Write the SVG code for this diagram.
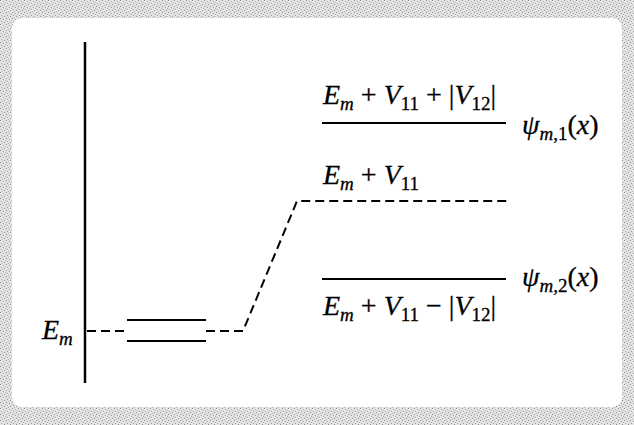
<svg xmlns="http://www.w3.org/2000/svg" width="634" height="425" viewBox="0 0 634 425">
<defs>
<pattern id="noise" width="6" height="6" patternUnits="userSpaceOnUse">
<rect width="6" height="6" fill="#e4e4e4"/>
<rect x="0" y="0" width="1" height="1" fill="#8a8a8a"/>
<rect x="3" y="1" width="1" height="1" fill="#9a9a9a"/>
<rect x="1" y="3" width="1" height="1" fill="#a0a0a0"/>
<rect x="4" y="4" width="1" height="1" fill="#8f8f8f"/>
<rect x="2" y="5" width="1" height="1" fill="#b0b0b0"/>
<rect x="5" y="2" width="1" height="1" fill="#b5b5b5"/>
</pattern>
<style>
.t{font-family:"Liberation Serif","Times New Roman",serif;font-size:28px;fill:#000;stroke:#000;stroke-width:0.3}
.i{font-style:italic}
.s{font-size:19px}
.solid{stroke:#000;stroke-width:2;fill:none}
.dash{stroke:#000;stroke-width:2;fill:none;stroke-dasharray:9 5}
</style>
</defs>
<rect width="634" height="425" fill="url(#noise)"/>
<rect x="12" y="18" width="610" height="389" rx="10" fill="#fff"/>
<g id="axis"><line x1="85" y1="42" x2="85" y2="383" stroke="#000" stroke-width="2.5"/></g>
<g id="connectors">
<line class="dash" x1="87" y1="331" x2="127" y2="331"/>
<polyline class="dash" points="206,331 243,331 297,201 510,201"/>
</g>
<g id="level-Em">
<line class="solid" x1="127" y1="320" x2="206" y2="320"/>
<line class="solid" x1="127" y1="341" x2="206" y2="341"/>
<text class="t" x="42" y="339"><tspan class="i">E</tspan><tspan class="s i" dy="6">m</tspan></text>
</g>
<g id="level-upper">
<line class="solid" x1="322" y1="123" x2="506" y2="123"/>
<text class="t" x="323" y="104"><tspan class="i">E</tspan><tspan class="s i" dy="6">m</tspan><tspan dy="-6"> + </tspan><tspan class="i">V</tspan><tspan class="s" dy="6">11</tspan><tspan dy="-6"> + |</tspan><tspan class="i">V</tspan><tspan class="s" dy="6">12</tspan><tspan dy="-6">|</tspan></text>
<text class="t" x="522" y="134"><tspan class="i">ψ</tspan><tspan class="s i" dy="6">m</tspan><tspan class="s">,1</tspan><tspan dy="-6">(</tspan><tspan class="i">x</tspan><tspan>)</tspan></text>
</g>
<g id="level-mid">
<text class="t" x="323" y="184"><tspan class="i">E</tspan><tspan class="s i" dy="6">m</tspan><tspan dy="-6"> + </tspan><tspan class="i">V</tspan><tspan class="s" dy="6">11</tspan></text>
</g>
<g id="level-lower">
<line class="solid" x1="322" y1="279" x2="506" y2="279"/>
<text class="t" x="323" y="315"><tspan class="i">E</tspan><tspan class="s i" dy="6">m</tspan><tspan dy="-6"> + </tspan><tspan class="i">V</tspan><tspan class="s" dy="6">11</tspan><tspan dy="-6"> − |</tspan><tspan class="i">V</tspan><tspan class="s" dy="6">12</tspan><tspan dy="-6">|</tspan></text>
<text class="t" x="522" y="286"><tspan class="i">ψ</tspan><tspan class="s i" dy="6">m</tspan><tspan class="s">,2</tspan><tspan dy="-6">(</tspan><tspan class="i">x</tspan><tspan>)</tspan></text>
</g>
</svg>
